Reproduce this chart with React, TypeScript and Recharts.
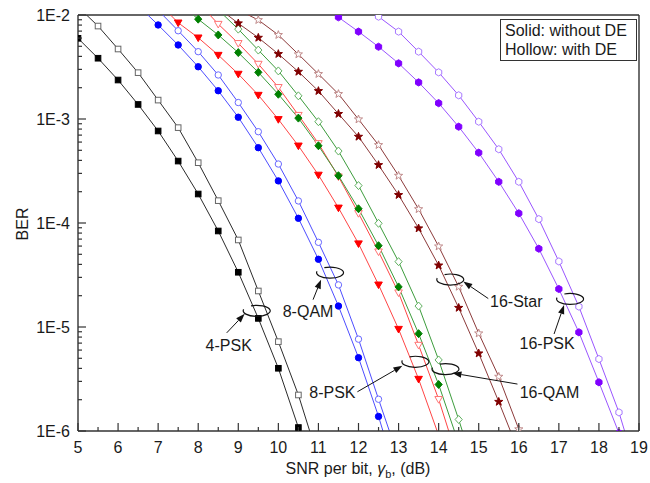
import React from "react";
import { LineChart, Line, XAxis, YAxis, ReferenceLine, ReferenceDot } from "recharts";

// SNR per bit (dB) for each curve, and the BER
const psk4X = [5, 5.5, 6, 6.5, 7, 7.5, 8, 8.5, 9, 9.5, 10, 10.5, 11];
const psk4Solid = [5.97e-3, 3.84e-3, 2.37e-3, 1.38e-3, 7.67e-4, 3.94e-4, 1.9e-4, 8.38e-5, 3.36e-5, 1.21e-5, 4.01e-6, 1.08e-6, 2.5e-7];
const psk4Hollow = [1.2e-2, 7.83e-3, 4.71e-3, 2.79e-3, 1.52e-3, 8.26e-4, 3.8e-4, 1.64e-4, 6.87e-5, 2.22e-5, 7.23e-6, 2.22e-6, 5.4e-7];

const qam8SolidX = [6.5, 7, 7.5, 8, 8.5, 9, 9.5, 10, 10.5, 11, 11.5, 12, 12.5, 13];
const qam8Solid = [1.23e-2, 8.02e-3, 5.15e-3, 3.18e-3, 1.87e-3, 1.04e-3, 5.3e-4, 2.54e-4, 1.11e-4, 4.48e-5, 1.59e-5, 5.07e-6, 1.38e-6, 3.2e-7];
const qam8HollowX = [7, 7.5, 8, 8.5, 9, 9.5, 10, 10.5, 11, 11.5, 12, 12.5, 13];
const qam8Hollow = [1.11e-2, 7.06e-3, 4.44e-3, 2.65e-3, 1.44e-3, 7.55e-4, 3.69e-4, 1.63e-4, 6.52e-5, 2.54e-5, 7.64e-6, 2.02e-6, 5.5e-7];

const psk8SolidX = [7, 7.5, 8, 8.5, 9, 9.5, 10, 10.5, 11, 11.5, 12, 12.5, 13, 13.5, 14, 14.5];
const psk8Solid = [1.32e-2, 8.43e-3, 6.05e-3, 4.12e-3, 2.71e-3, 1.7e-3, 9.93e-4, 5.53e-4, 2.9e-4, 1.4e-4, 6.34e-5, 2.55e-5, 9.55e-6, 3.16e-6, 9.1e-7, 2.5e-7];
const psk8HollowX = [8, 8.5, 9, 9.5, 10, 10.5, 11, 11.5, 12, 12.5, 13, 13.5, 14, 14.5];
const psk8Hollow = [1.32e-2, 8.18e-3, 5.35e-3, 3.38e-3, 2.02e-3, 1.09e-3, 5.83e-4, 2.79e-4, 1.24e-4, 5.3e-5, 2.14e-5, 6.71e-6, 2.02e-6, 5.0e-7];

const qam16SolidX = [7.5, 8, 8.5, 9, 9.5, 10, 10.5, 11, 11.5, 12, 12.5, 13, 13.5, 14, 14.5];
const qam16Solid = [1.32e-2, 9.12e-3, 6.43e-3, 4.35e-3, 2.81e-3, 1.73e-3, 1.02e-3, 5.53e-4, 2.85e-4, 1.37e-4, 6.05e-5, 2.43e-5, 8.63e-6, 2.8e-6, 7.6e-7];
const qam16HollowX = [8.5, 9, 9.5, 10, 10.5, 11, 11.5, 12, 12.5, 13, 13.5, 14, 14.5, 15];
const qam16Hollow = [1.12e-2, 7.31e-3, 4.6e-3, 2.9e-3, 1.67e-3, 9.42e-4, 4.92e-4, 2.29e-4, 9.93e-5, 4.25e-5, 1.59e-5, 4.82e-6, 1.29e-6, 3.2e-7];

const star16SolidX = [8.5, 9, 9.5, 10, 10.5, 11, 11.5, 12, 12.5, 13, 13.5, 14, 14.5, 15, 15.5, 16];
const star16Solid = [1.17e-2, 8.32e-3, 6.05e-3, 4.22e-3, 2.85e-3, 1.86e-3, 1.12e-3, 6.76e-4, 3.61e-4, 1.86e-4, 8.89e-5, 3.91e-5, 1.53e-5, 5.58e-6, 1.91e-6, 6.3e-7];
const star16HollowX = [9, 9.5, 10, 10.5, 11, 11.5, 12, 12.5, 13, 13.5, 14, 14.5, 15, 15.5, 16, 16.5];
const star16Hollow = [1.12e-2, 8.95e-3, 6.43e-3, 4.19e-3, 2.71e-3, 1.74e-3, 9.93e-4, 5.62e-4, 2.85e-4, 1.36e-4, 5.96e-5, 2.44e-5, 8.69e-6, 3.33e-6, 1.04e-6, 2.8e-7];

const psk16SolidX = [11, 11.5, 12, 12.5, 13, 13.5, 14, 14.5, 15, 15.5, 16, 16.5, 17, 17.5, 18, 18.5, 19];
const psk16Solid = [1.32e-2, 9.51e-3, 6.92e-3, 4.95e-3, 3.43e-3, 2.25e-3, 1.42e-3, 8.43e-4, 4.74e-4, 2.49e-4, 1.24e-4, 5.66e-5, 2.32e-5, 8.89e-6, 2.94e-6, 9.55e-7, 2.5e-7];
const psk16HollowX = [12, 12.5, 13, 13.5, 14, 14.5, 15, 15.5, 16, 16.5, 17, 17.5, 18, 18.5, 19];
const psk16Hollow = [1.32e-2, 9.64e-3, 6.92e-3, 4.44e-3, 2.81e-3, 1.69e-3, 9.42e-4, 5.12e-4, 2.49e-4, 1.09e-4, 4.27e-5, 1.57e-5, 4.92e-6, 1.51e-6, 3.5e-7];

const xMajorTicks = [5, 6, 7, 8, 9, 10, 11, 12, 13, 14, 15, 16, 17, 18, 19];
const xMinorTicks = [5.5, 6.5, 7.5, 8.5, 9.5, 10.5, 11.5, 12.5, 13.5, 14.5, 15.5, 16.5, 17.5, 18.5];
const yMajorTicks = [1e-6, 1e-5, 1e-4, 1e-3, 1e-2];
const yTickLabels = ["1E-6", "1E-5", "1E-4", "1E-3", "1E-2"];
const yMinorMantissa = [2, 3, 4, 5, 6, 7, 8, 9];

const FONT = "'Liberation Sans', Arial, sans-serif";

const pts = (xs: number[], ys: number[]) => xs.map((x, i) => ({ x, y: ys[i] }));

const series = [
  { id: "psk4s", data: pts(psk4X, psk4Solid), line: "#2b2b2b", color: "#000000", shape: "square", filled: true },
  { id: "psk4h", data: pts(psk4X, psk4Hollow), line: "#2b2b2b", color: "#666666", shape: "square", filled: false },
  { id: "qam8s", data: pts(qam8SolidX, qam8Solid), line: "#4d4dff", color: "#0000ff", shape: "circle", filled: true },
  { id: "qam8h", data: pts(qam8HollowX, qam8Hollow), line: "#4d4dff", color: "#6a6aff", shape: "circle", filled: false },
  { id: "psk8s", data: pts(psk8SolidX, psk8Solid), line: "#ff4545", color: "#ff0000", shape: "triangle", filled: true },
  { id: "psk8h", data: pts(psk8HollowX, psk8Hollow), line: "#ff4545", color: "#ff7373", shape: "triangle", filled: false },
  { id: "qam16s", data: pts(qam16SolidX, qam16Solid), line: "#3c9c3c", color: "#008000", shape: "diamond", filled: true },
  { id: "qam16h", data: pts(qam16HollowX, qam16Hollow), line: "#3c9c3c", color: "#5fb05f", shape: "diamond", filled: false },
  { id: "star16s", data: pts(star16SolidX, star16Solid), line: "#8c3a3a", color: "#800000", shape: "star", filled: true },
  { id: "star16h", data: pts(star16HollowX, star16Hollow), line: "#8c3a3a", color: "#c08a8a", shape: "star", filled: false },
  { id: "psk16s", data: pts(psk16SolidX, psk16Solid), line: "#9a55ff", color: "#8000ff", shape: "hexagon", filled: true },
  { id: "psk16h", data: pts(psk16HollowX, psk16Hollow), line: "#9a55ff", color: "#a87aff", shape: "hexagon", filled: false },
];

// anchor in data units, offsets in px from the ring centre
const annotations = [
  { label: "4-PSK", x: 9.46, y: 1.43e-5, text: [-28, 40], tail: [-30, 22], head: [-12, 3] },
  { label: "8-QAM", x: 11.29, y: 3.33e-5, text: [-22, 44], tail: [-17, 27], head: [-9, 7] },
  { label: "8-PSK", x: 13.42, y: 4.63e-6, text: [-83, 36], tail: [-58, 30], head: [-13, 4] },
  { label: "16-QAM", x: 14.17, y: 3.94e-6, text: [104, 29], tail: [72, 15], head: [7, 4] },
  { label: "16-Star", x: 14.29, y: 2.86e-5, text: [66, 27], tail: [38, 19], head: [13, 2] },
  { label: "16-PSK", x: 17.28, y: 1.86e-5, text: [-23, 50], tail: [-16, 35], head: [-6, 6] },
];

function polyPoints(cx: number, cy: number, n: number, r: number, r2: number | null, rot: number) {
  const out: string[] = [];
  const count = r2 == null ? n : n * 2;
  for (let i = 0; i < count; i++) {
    const rr = r2 == null || i % 2 === 0 ? r : r2;
    const a = rot + (i * 2 * Math.PI) / count;
    out.push(`${cx + rr * Math.cos(a)},${cy + rr * Math.sin(a)}`);
  }
  return out.join(" ");
}

function Marker({ cx, cy, shape, filled, color }: any) {
  if (cx == null || cy == null || isNaN(cx) || isNaN(cy)) return null;
  const p = { fill: filled ? color : "#ffffff", stroke: color, strokeWidth: 1 };
  switch (shape) {
    case "square":
      return <rect x={cx - 2.8} y={cy - 2.8} width={5.6} height={5.6} {...p} />;
    case "circle":
      return <circle cx={cx} cy={cy} r={3.2} {...p} />;
    case "triangle":
      return <polygon points={`${cx - 3.8},${cy - 2.7} ${cx + 3.8},${cy - 2.7} ${cx},${cy + 3.9}`} {...p} />;
    case "diamond":
      return <polygon points={`${cx},${cy - 4} ${cx + 3.6},${cy} ${cx},${cy + 4} ${cx - 3.6},${cy}`} {...p} />;
    case "star":
      return <polygon points={polyPoints(cx, cy, 5, 4.3, 1.8, -Math.PI / 2)} {...p} />;
    default:
      return <polygon points={polyPoints(cx, cy, 6, 3.6, null, -Math.PI / 2)} {...p} />;
  }
}

const XTick = ({ x, y, payload }: any) => {
  const v = payload.value;
  const major = Number.isInteger(v);
  return (
    <g>
      <line x1={x} x2={x} y1={y} y2={y - (major ? 8 : 4)} stroke="#333" strokeWidth={1.2} />
      {major && (
        <text x={x} y={y + 22} textAnchor="middle" fontSize={16} fontFamily={FONT} fill="#1a1a1a">
          {v}
        </text>
      )}
    </g>
  );
};

const YTick = ({ x, y, payload }: any) => {
  const idx = yMajorTicks.findIndex((t) => Math.abs(t - payload.value) / t < 1e-6);
  const major = idx >= 0;
  return (
    <g>
      <line x1={x} x2={x + (major ? 8 : 4)} y1={y} y2={y} stroke="#333" strokeWidth={1.2} />
      {major && (
        <text x={x - 8} y={y + 6} textAnchor="end" fontSize={16} fontFamily={FONT} fill="#1a1a1a">
          {yTickLabels[idx]}
        </text>
      )}
    </g>
  );
};

function Ring({ cx, cy, a }: any) {
  if (cx == null || cy == null) return null;
  const rx = 13.5;
  const ry = 5.5;
  const g0 = (245 * Math.PI) / 180;
  const g1 = (195 * Math.PI) / 180;
  const sx = cx + rx * Math.cos(g0);
  const sy = cy + ry * Math.sin(g0);
  const ex = cx + rx * Math.cos(g1);
  const ey = cy + ry * Math.sin(g1);
  const tx = cx + a.tail[0];
  const ty = cy + a.tail[1];
  const hx = cx + a.head[0];
  const hy = cy + a.head[1];
  const ang = Math.atan2(hy - ty, hx - tx);
  const L = 9;
  const W = 3.2;
  const bx = hx - L * Math.cos(ang);
  const by = hy - L * Math.sin(ang);
  const head = `${hx},${hy} ${bx + W * Math.sin(ang)},${by - W * Math.cos(ang)} ${bx - W * Math.sin(ang)},${by + W * Math.cos(ang)}`;
  return (
    <g>
      <path d={`M${sx},${sy} A${rx},${ry} 0 1 1 ${ex},${ey}`} fill="none" stroke="#111" strokeWidth={1.2} />
      <line x1={tx} y1={ty} x2={bx} y2={by} stroke="#111" strokeWidth={1} />
      <polygon points={head} fill="#111" />
      <text x={cx + a.text[0]} y={cy + a.text[1]} textAnchor="middle" fontSize={16} fontFamily={FONT} fill="#1a1a1a">
        {a.label}
      </text>
    </g>
  );
}

export default function App() {
  const yTicks = [
    ...yMajorTicks,
    ...yMajorTicks.slice(0, -1).flatMap((d) => yMinorMantissa.map((m) => m * d)),
  ];
  const xTicks = [...xMajorTicks, ...xMinorTicks].sort((a, b) => a - b);

  return (
    <div style={{ position: "absolute", left: 0, top: 0, width: 650, height: 483, background: "#fff" }}>
      <LineChart width={650} height={483} margin={{ top: 15, right: 11, bottom: 0, left: 0 }}>
        <XAxis
          type="number"
          dataKey="x"
          domain={[5, 19]}
          ticks={xTicks}
          interval={0}
          allowDataOverflow
          height={52}
          tickSize={0}
          tickMargin={0}
          tickLine={false}
          axisLine={{ stroke: "#333", strokeWidth: 1.4 }}
          tick={<XTick />}
        />
        <YAxis
          type="number"
          dataKey="y"
          scale="log"
          domain={[1e-6, 1e-2]}
          ticks={yTicks}
          interval={0}
          allowDataOverflow
          width={78}
          tickSize={0}
          tickMargin={0}
          tickLine={false}
          axisLine={{ stroke: "#333", strokeWidth: 1.4 }}
          tick={<YTick />}
        />
        <ReferenceLine y={1e-2} stroke="#333" strokeWidth={1.4} />
        <ReferenceLine x={19} stroke="#333" strokeWidth={1.4} />
        {series.map((s) => (
          <Line
            key={s.id}
            data={s.data}
            dataKey="y"
            type="linear"
            stroke={s.line}
            strokeWidth={1}
            isAnimationActive={false}
            dot={(p: any) => (
              <Marker key={`${s.id}-${p.index}`} cx={p.cx} cy={p.cy} shape={s.shape} filled={s.filled} color={s.color} />
            )}
            activeDot={false}
          />
        ))}
        {annotations.map((a) => (
          <ReferenceDot
            key={a.label}
            x={a.x}
            y={a.y}
            r={0}
            ifOverflow="visible"
            shape={(p: any) => <Ring cx={p.cx} cy={p.cy} a={a} />}
          />
        ))}
      </LineChart>
      <svg width={650} height={483} style={{ position: "absolute", left: 0, top: 0, pointerEvents: "none" }}>
        <rect x={500.5} y={19.5} width={136} height={41} fill="#fff" stroke="#333" strokeWidth={1} />
        <text x={505} y={36} fontSize={16} fontFamily={FONT} fill="#1a1a1a">Solid: without DE</text>
        <text x={505} y={55} fontSize={16} fontFamily={FONT} fill="#1a1a1a">Hollow: with DE</text>
        <text transform="translate(28,224) rotate(-90)" textAnchor="middle" fontSize={16} fontFamily={FONT} fill="#1a1a1a">
          BER
        </text>
        <text x={358} y={474} textAnchor="middle" fontSize={16} fontFamily={FONT} fill="#1a1a1a">
          SNR per bit, <tspan fontStyle="italic">γ</tspan>
          <tspan fontSize={11} dy={4}>b</tspan>
          <tspan dy={-4}>, (dB)</tspan>
        </text>
      </svg>
    </div>
  );
}
